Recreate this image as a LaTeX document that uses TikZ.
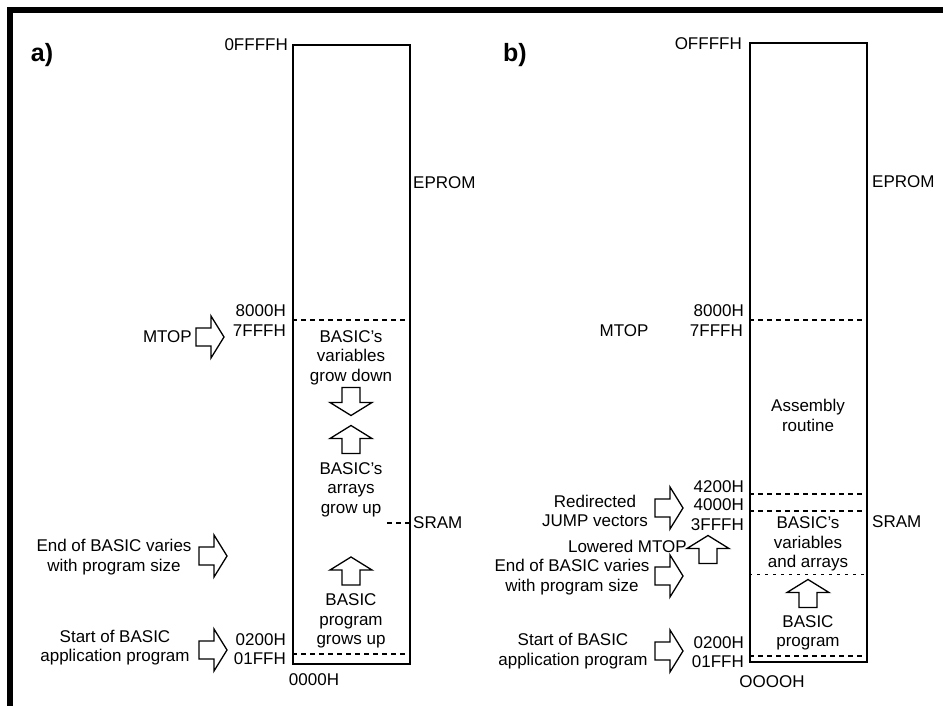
\documentclass[tikz,border=0pt]{standalone}
\usepackage{fontspec}
\setmainfont{Liberation Sans}
\usetikzlibrary{positioning}

\begin{document}
\begin{tikzpicture}[x=1pt, y=-1pt,
    lbl/.style={font=\fontsize{17}{19.5}\selectfont, inner sep=0pt, align=center},
    addr/.style={font=\fontsize{17}{19}\selectfont, inner sep=0pt, anchor=east},
    side/.style={font=\fontsize{17}{19}\selectfont, inner sep=0pt, anchor=west},
    mem/.style={draw, line width=1.6pt, minimum width=117pt, minimum height=619pt, anchor=north west, inner sep=0pt},
    bound/.style={line width=1.2pt, dash pattern=on 5pt off 4pt},
    barrow/.pic={\draw[line width=1.3pt, fill=white] (-14,-9) -- (1,-9) -- (1,-21) -- (14,0) -- (1,21) -- (1,9) -- (-14,9) -- cycle;}]

    \useasboundingbox (0,0) rectangle (943,706);

    % Frame
    \draw[line width=6pt] (10,706) -- (10,10) -- (943,10);

    % ---------------- a) ----------------
    \node[font=\fontsize{25}{25}\selectfont\bfseries, inner sep=0pt] (labA) at (42,55) {a)};
    \node[mem] (ramA) at (292,44) {};

    % Addresses
    \node[addr] (aFFFF) at (288,45) {0FFFFH};
    \node[addr] (a8000) at (286,311) {8000H};
    \node[addr] (a7FFF) at (286,331) {7FFFH};
    \node[addr] (a0200) at (286,640) {0200H};
    \node[addr] (a01FF) at (286,659) {01FFH};
    \node[lbl] (a0000) at (314,680) {0000H};

    % Regions
    \node[side] (eprA) at (413,183) {EPROM};
    \node[side] (sramA) at (413,523) {SRAM};
    \coordinate (bA8000) at (292,320);
    \coordinate (bA0200) at (292,654);
    \coordinate (tickA) at (387,523);
    \draw[bound] (bA8000) -- (bA8000 -| ramA.east);
    \draw[bound] (bA0200) -- (bA0200 -| ramA.east);
    \draw[bound] (tickA) -- (tickA -| ramA.east);

    % Inside the map
    \node[lbl] (varsA) at (351,357.5) {BASIC's\\variables\\grow down};
    \pic[rotate=-90] (dnA) at (351,401.5) {barrow};
    \pic[rotate=90] (upA) at (351,439.5) {barrow};
    \node[lbl] (arrA) at (351,489.5) {BASIC's\\arrays\\grow up};
    \pic[rotate=90] (upB) at (351,571) {barrow};
    \node[lbl] (progA) at (351,621) {BASIC\\program\\grows up};

    % Pointers
    \node[lbl, anchor=east] (mtopA) at (192,337) {MTOP};
    \pic (ptA1) at (210,337) {barrow};
    \node[lbl] (endA) at (114,557) {End of BASIC varies\\with program size};
    \pic (ptA2) at (213,556) {barrow};
    \node[lbl] (startA) at (115,647.5) {Start of BASIC\\application program};
    \pic (ptA3) at (213,650) {barrow};

    % ---------------- b) ----------------
    \node[font=\fontsize{25}{25}\selectfont\bfseries, inner sep=0pt] (labB) at (515,55) {b)};
    \node[mem] (ramB) at (749,42) {};

    % Addresses
    \node[addr] (bFFFF) at (742,44) {OFFFFH};
    \node[addr] (b8000) at (744,311) {8000H};
    \node[addr] (b7FFF) at (743,331) {7FFFH};
    \node[addr] (b4200) at (744,487) {4200H};
    \node[addr] (b4000) at (744,505) {4000H};
    \node[addr] (b3FFF) at (744,525) {3FFFH};
    \node[addr] (b0200) at (744,643) {0200H};
    \node[addr] (b01FF) at (744,662) {01FFH};
    \node[lbl] (b0000) at (772,682) {OOOOH};

    % Regions
    \node[side] (eprB) at (872,182) {EPROM};
    \node[side] (sramB) at (872,522) {SRAM};
    \coordinate (bB8000) at (749,320);
    \coordinate (bB4200) at (749,494);
    \coordinate (bB4000) at (749,511);
    \coordinate (bBvar) at (749,574);
    \coordinate (bB0200) at (749,656);
    \draw[bound] (bB8000) -- (bB8000 -| ramB.east);
    \draw[bound] (bB4200) -- (bB4200 -| ramB.east);
    \draw[bound] (bB4000) -- (bB4000 -| ramB.east);
    \draw[bound, line width=0.9pt, dash pattern=on 3pt off 5pt] (bBvar) -- (bBvar -| ramB.east);
    \draw[bound] (bB0200) -- (bB0200 -| ramB.east);

    % Inside the map
    \node[lbl] (asmB) at (808,415.5) {Assembly\\routine};
    \node[lbl] (varsB) at (808,544) {BASIC's\\variables\\and arrays};
    \pic[rotate=90] (upC) at (808,593.5) {barrow};
    \node[lbl] (progB) at (808,633) {BASIC\\program};

    % Pointers
    \node[lbl] (mtopB) at (624,331) {MTOP};
    \node[lbl] (jumpB) at (595,511) {Redirected\\JUMP vectors};
    \pic (ptB1) at (669,508) {barrow};
    \node[lbl, anchor=east] (lowB) at (687,546) {Lowered MTOP};
    \pic[rotate=90] (upD) at (708,549.5) {barrow};
    \node[lbl] (endB) at (572,577) {End of BASIC varies\\with program size};
    \pic (ptB2) at (669,576) {barrow};
    \node[lbl] (startB) at (573,651) {Start of BASIC\\application program};
    \pic (ptB3) at (669,651) {barrow};
\end{tikzpicture}
\end{document}
